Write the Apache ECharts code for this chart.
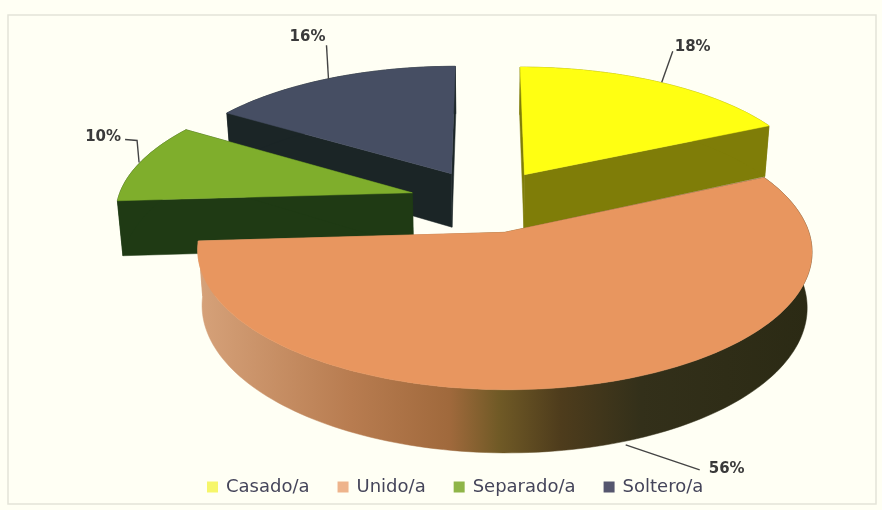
<!DOCTYPE html>
<html>
<head>
<meta charset="utf-8">
<style>html,body{margin:0;padding:0;background:#fffff4}#c{width:882px;height:510px}</style>
<script src="https://cdn.jsdelivr.net/npm/echarts@6/dist/echarts.min.js"></script>
</head>
<body>
<div id="c"></div>
<script>
var categories = ['Casado/a', 'Unido/a', 'Separado/a', 'Soltero/a'];
var values = [18, 56, 10, 16];
var drawOrder = [3, 2, 0, 1];

var topColors = ['#ffff12', '#e8965f', '#7fae2c', '#464e63'];
var wallColors = ['#7f7d08', null, '#1f3a14', '#1b2526'];
var legendColors = ['#f6f66a', '#eeb48c', '#8fb548', '#55566e'];
var explodeBySlice = [0.25, 0.245, 0.26, 0.25];
var depthBySlice = [55, 53, 55, 55];
var leaderOffsets = [
  [[2, 0], [13, -31]],
  [[33, -2], [107, 23]],
  [[-1, 0], [-3, -22], [-15, -23]],
  [[-2, 1], [-4, -33]]
];
var labelOffsets = [[15, -35, 'left'], [116, 22, 'left'], [-19, -25, 'right'], [-5, -41, 'right']];

var P = { cx: 486, cy: 201, rx: 295, ry: 128, k: 0.13, taper: 0.015 };
var total = values.reduce(function (a, b) { return a + b; }, 0);

function project(X, Y, depth) {
  var s = 1 / (1 + P.k * Y);
  return [
    P.cx + P.rx * X * s * (depth ? 1 - P.taper : 1),
    P.cy - P.ry * Y * s + depth * s
  ];
}
function sliceAngles(i) {
  var start = 0;
  for (var j = 0; j < i; j++) start += values[j];
  return [start / total * Math.PI * 2, (start + values[i]) / total * Math.PI * 2];
}
function rimPoints(i, depth) {
  var a = sliceAngles(i), mid = (a[0] + a[1]) / 2;
  var ox = explodeBySlice[i] * Math.sin(mid), oy = explodeBySlice[i] * Math.cos(mid);
  var n = Math.max(8, Math.round((a[1] - a[0]) * 40)), pts = [];
  for (var t = 0; t <= n; t++) {
    var th = a[0] + (a[1] - a[0]) * t / n;
    pts.push(project(ox + Math.sin(th), oy + Math.cos(th), depth));
  }
  return { pts: pts, apex: project(ox, oy, depth), mid: mid, ox: ox, oy: oy };
}
function wallFill(i) {
  if (wallColors[i]) return wallColors[i];
  return new echarts.graphic.LinearGradient(197, 0, 813, 0, [
    { offset: 0, color: '#d6a27a' },
    { offset: 0.25, color: '#b87c50' },
    { offset: 0.41, color: '#a0693c' },
    { offset: 0.49, color: '#705a26' },
    { offset: 0.59, color: '#4e3c1c' },
    { offset: 0.72, color: '#33301a' },
    { offset: 1, color: '#2b2a14' }
  ], true);
}
function renderSlice(i) {
  return function (params, api) {
    var d = depthBySlice[i];
    var top = rimPoints(i, 0), low = rimPoints(i, d);
    var n = top.pts.length - 1, fill = wallFill(i), children = [];
    function poly(points, color) {
      children.push({ type: 'polygon', shape: { points: points }, style: { fill: color, stroke: color, lineWidth: 0.5 }, silent: true });
    }
    poly([top.apex, top.pts[0], low.pts[0], low.apex], fill);
    poly([top.apex, top.pts[n], low.pts[n], low.apex], fill);
    poly(top.pts.concat(low.pts.slice().reverse()), fill);
    poly([top.apex].concat(top.pts), topColors[i]);

    var onFront = Math.cos(top.mid) < 0;
    var anchor = project(top.ox + Math.sin(top.mid), top.oy + Math.cos(top.mid), onFront ? d : 0);
    var line = leaderOffsets[i].map(function (o) { return [anchor[0] + o[0], anchor[1] + o[1]]; });
    children.push({ type: 'polyline', shape: { points: line }, style: { fill: 'none', stroke: '#444', lineWidth: 1.4 }, silent: true, z2: 5 });
    var lab = labelOffsets[i];
    children.push({
      type: 'text', silent: true, z2: 6,
      style: {
        text: api.value(0) + '%', x: anchor[0] + lab[0], y: anchor[1] + lab[1],
        align: lab[2], verticalAlign: 'middle', fill: '#3a3a3a',
        font: 'bold 15px "DejaVu Sans"'
      }
    });
    return { type: 'group', children: children };
  };
}

var chart = echarts.init(document.getElementById('c'), null, { renderer: 'canvas' });
chart.setOption({
  animation: false,
  backgroundColor: '#fffff4',
  legend: {
    data: categories,
    left: 202, top: 473,
    itemWidth: 11, itemHeight: 11, itemGap: 28, icon: 'rect',
    selectedMode: false,
    textStyle: { color: '#45455a', fontFamily: 'DejaVu Sans', fontSize: 18, padding: [0, 0, 0, 3] }
  },
  graphic: [{
    type: 'rect', silent: true, z: -1,
    shape: { x: 8, y: 15, width: 868, height: 489 },
    style: { fill: 'none', stroke: '#e4e4d8', lineWidth: 1.5 }
  }],
  series: categories.map(function (name, i) {
    return {
      type: 'custom', name: name, coordinateSystem: 'none',
      z: 2 + drawOrder.indexOf(i),
      itemStyle: { color: legendColors[i] },
      renderItem: renderSlice(i),
      data: [[values[i]]]
    };
  })
});
</script>
</body>
</html>
